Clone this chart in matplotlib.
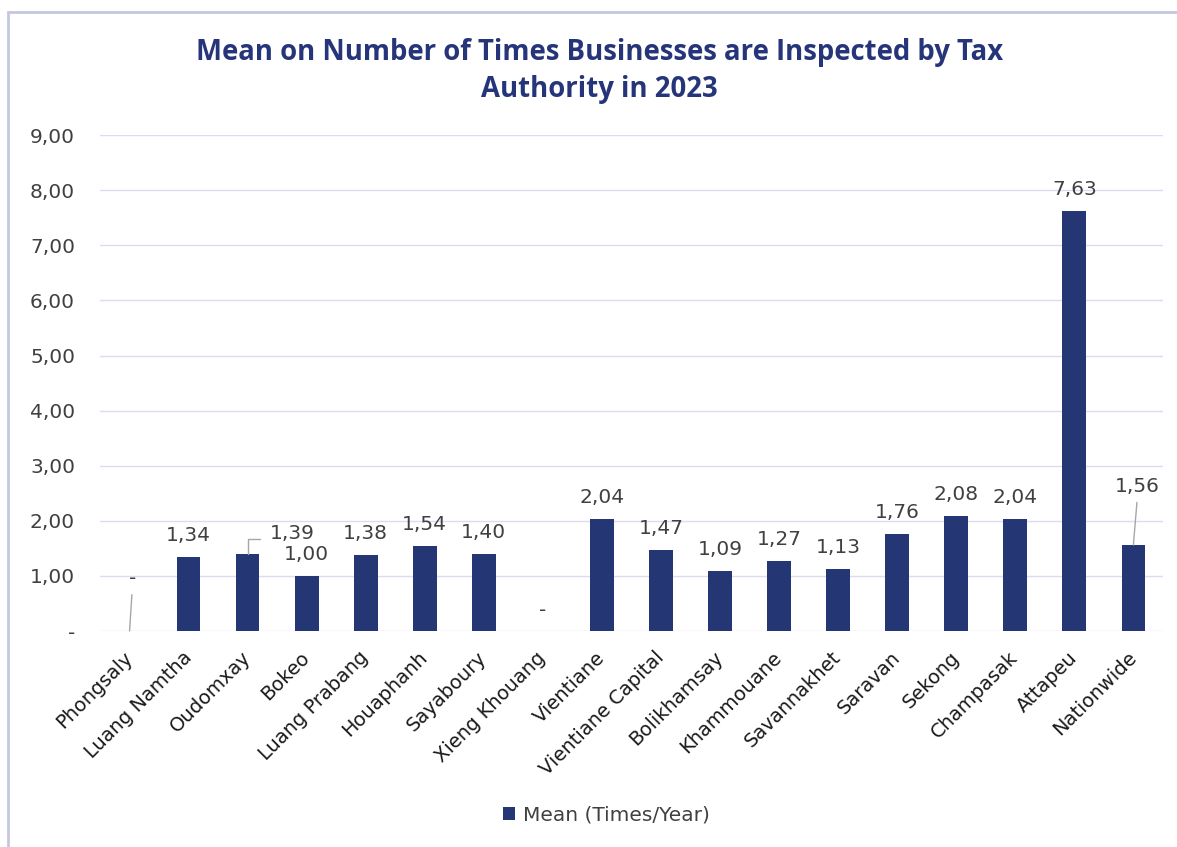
import matplotlib
matplotlib.use("Agg")
import matplotlib.pyplot as plt
from matplotlib.patches import Rectangle
import numpy as np

categories = ["Phongsaly", "Luang Namtha", "Oudomxay", "Bokeo", "Luang Prabang",
              "Houaphanh", "Sayaboury", "Xieng Khouang", "Vientiane", "Vientiane Capital",
              "Bolikhamsay", "Khammouane", "Savannakhet", "Saravan", "Sekong",
              "Champasak", "Attapeu", "Nationwide"]
values = [0.00, 1.34, 1.39, 1.00, 1.38, 1.54, 1.40, 0.00, 2.04, 1.47,
          1.09, 1.27, 1.13, 1.76, 2.08, 2.04, 7.63, 1.56]
yticks = [0, 1, 2, 3, 4, 5, 6, 7, 8, 9]
ytick_labels = ["-", "1,00", "2,00", "3,00", "4,00", "5,00", "6,00", "7,00", "8,00", "9,00"]
title = "Mean on Number of Times Businesses are Inspected by Tax\nAuthority in 2023"
legend_label = "Mean (Times/Year)"

BAR = "#243673"
TITLE_C = "#26357a"
TXT = "#404040"
GRID = "#dcdcf0"
LEAD = "#a6a6a6"

plt.rcParams['font.family'] = ['DejaVu Sans']

fig = plt.figure(figsize=(11.77, 8.47), dpi=100)
ax = fig.add_axes([0.085, 0.255, 0.903, 0.5855])

# outer frame
fig.patches.append(Rectangle((8/1177, -0.01), 1.2, 1 - 12.5/847 + 0.01, transform=fig.transFigure,
                             fill=False, edgecolor="#c5c7e2", linewidth=2))

x = np.arange(len(categories))
ax.bar(x, values, width=0.4, color=BAR, label=legend_label, zorder=3)

ax.set_xlim(-0.5, len(categories) - 0.5)
ax.set_ylim(0, 9)
ax.set_yticks(yticks)
ax.set_yticklabels(ytick_labels, fontsize=14.5, color=TXT)
ax.set_xticks(x)
ax.set_xticklabels(categories, rotation=45, ha="right", va="center", rotation_mode="anchor",
                   fontsize=14, color="#1a1a1a")
ax.tick_params(axis="both", length=0)
ax.tick_params(axis="y", pad=18)
ax.tick_params(axis="x", pad=17)
ax.grid(axis="y", color=GRID, linewidth=1, zorder=0)
for s in ax.spines.values():
    s.set_visible(False)

def fmt(v):
    return "-" if v == 0 else f"{v:.2f}".replace(".", ",")

FS = 14.5
for i, v in enumerate(values):
    lab = fmt(v)
    name = categories[i]
    if name == "Phongsaly":
        ax.annotate(lab, xy=(i, v), xytext=(2, 38), textcoords="offset points",
                    ha="center", va="center", fontsize=FS, color=TXT,
                    arrowprops=dict(arrowstyle="-", color=LEAD, lw=1, shrinkA=3, shrinkB=0,
                                    relpos=(0.5, 0)))
    elif name == "Oudomxay":
        ax.annotate(lab, xy=(i, v), xytext=(32, 15), textcoords="offset points",
                    ha="center", va="center", fontsize=FS, color=TXT,
                    arrowprops=dict(arrowstyle="-", color=LEAD, lw=1, shrinkA=5, shrinkB=0,
                                    connectionstyle="angle,angleA=0,angleB=90,rad=0",
                                    relpos=(0, 0.22)))
    elif name == "Nationwide":
        ax.annotate(lab, xy=(i, v), xytext=(3, 42.5), textcoords="offset points",
                    ha="center", va="center", fontsize=FS, color=TXT,
                    arrowprops=dict(arrowstyle="-", color=LEAD, lw=1, shrinkA=3, shrinkB=0,
                                    relpos=(0.5, 0)))
    elif v == 0:
        ax.annotate(lab, xy=(i, v), xytext=(0, 15), textcoords="offset points",
                    ha="center", va="center", fontsize=FS, color=TXT)
    else:
        ax.annotate(lab, xy=(i, v), xytext=(0, 11.5), textcoords="offset points",
                    ha="center", va="baseline", fontsize=FS, color=TXT)

fig.suptitle(title, x=0.509, y=0.955, va="top", fontsize=19.8, fontweight="bold",
             color=TITLE_C, linespacing=1.36, family=["Open Sans", "DejaVu Sans"])

leg = fig.legend(loc="center", bbox_to_anchor=(0.515, 0.038), frameon=False,
                 fontsize=14.5, handlelength=0.6, handleheight=0.6, handletextpad=0.4)
for t in leg.get_texts():
    t.set_color(TXT)

fig.savefig("out.png", dpi=100)
